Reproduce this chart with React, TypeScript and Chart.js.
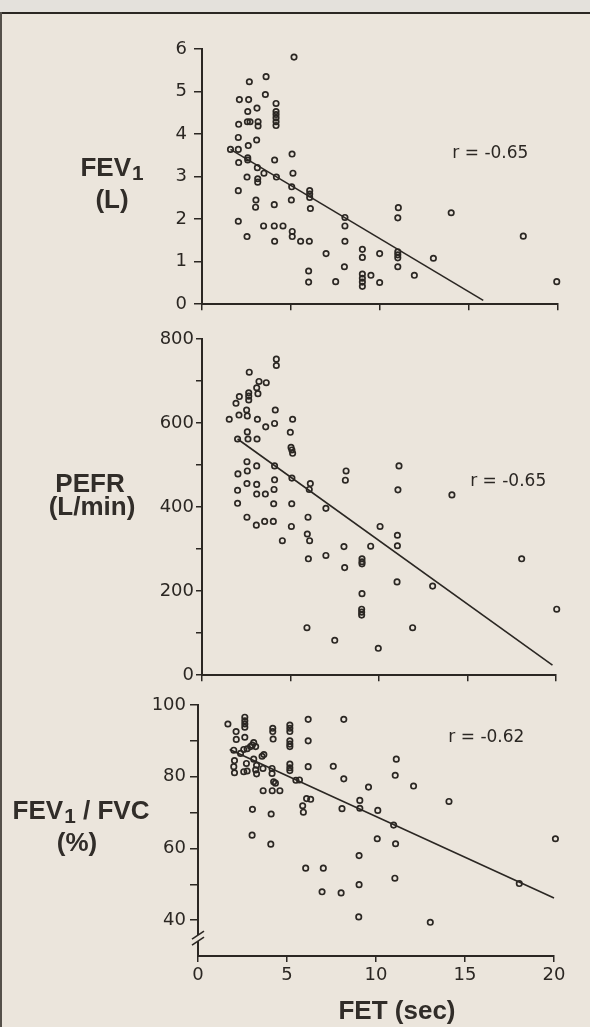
import React, { useEffect, useRef } from 'react';
import { Chart, registerables } from 'chart.js';
Chart.register(...registerables);

const INK = '#2b2723';
const BG = '#ebe5dc';
const TICK_FONT = { family: '"DejaVu Sans", sans-serif', size: 18 };

// shared x axis (FET, sec)
const xTickValues = [0, 5, 10, 15, 20];

// Panel 1: FEV1 (L)
const fev1Fet = [5.17, 2.66, 3.6, 3.56, 2.1, 2.62, 4.16, 4.16, 4.16, 4.16, 4.16, 4.16, 2.57, 3.09, 2.06, 2.55, 2.7, 3.15, 3.15, 3.07, 2.04, 2.6, 1.6, 2.04, 5.06, 4.08, 2.06, 2.57, 2.57, 3.11, 3.48, 5.11, 2.53, 3.13, 3.13, 4.18, 5.04, 2.04, 6.05, 6.05, 6.05, 5.02, 3.03, 3.01, 4.06, 6.09, 8.03, 11.03, 11.0, 14.0, 2.04, 3.46, 4.06, 4.55, 8.03, 2.53, 5.07, 5.07, 4.08, 5.54, 6.03, 8.03, 18.05, 6.97, 9.01, 9.01, 9.98, 11.0, 11.0, 11.0, 13.0, 8.0, 11.0, 5.99, 9.01, 9.49, 11.93, 9.01, 9.01, 9.01, 5.99, 7.51, 9.98, 19.93];
const fev1Val = [5.81, 5.23, 5.35, 4.93, 4.81, 4.81, 4.72, 4.53, 4.46, 4.38, 4.29, 4.2, 4.53, 4.61, 4.23, 4.29, 4.29, 4.29, 4.19, 3.86, 3.92, 3.73, 3.64, 3.64, 3.53, 3.39, 3.33, 3.44, 3.39, 3.21, 3.08, 3.08, 2.99, 2.95, 2.87, 2.99, 2.76, 2.67, 2.67, 2.59, 2.51, 2.45, 2.45, 2.28, 2.34, 2.25, 2.04, 2.27, 2.03, 2.15, 1.95, 1.84, 1.84, 1.84, 1.84, 1.59, 1.71, 1.59, 1.48, 1.48, 1.48, 1.48, 1.6, 1.19, 1.29, 1.1, 1.19, 1.23, 1.16, 1.09, 1.08, 0.88, 0.88, 0.78, 0.71, 0.68, 0.68, 0.61, 0.52, 0.42, 0.52, 0.53, 0.51, 0.53];
const fev1FitFet = [1.6, 15.8];
const fev1FitVal = [3.64, 0.09];
const fev1Ticks = [0, 1, 2, 3, 4, 5, 6];
const fev1Labels = [0, 1, 2, 3, 4, 5, 6];

// Panel 2: PEFR (L/min)
const pefrFet = [4.2, 4.2, 2.67, 3.22, 3.63, 3.09, 3.16, 2.64, 2.64, 2.64, 2.11, 1.92, 2.52, 2.56, 2.09, 1.54, 3.13, 4.14, 4.1, 3.6, 5.12, 4.99, 2.56, 2.6, 3.11, 2.01, 5.03, 5.08, 5.12, 2.54, 3.09, 4.1, 2.03, 2.56, 8.14, 8.1, 11.13, 4.1, 5.08, 2.54, 3.09, 6.12, 6.06, 2.01, 3.09, 3.58, 4.07, 11.07, 14.12, 2.01, 4.05, 5.07, 7.0, 2.54, 3.07, 3.54, 4.03, 5.05, 5.99, 10.06, 5.95, 6.08, 4.54, 11.04, 11.04, 8.02, 9.53, 6.01, 7.0, 9.04, 9.04, 9.04, 8.06, 18.06, 11.02, 13.03, 9.04, 9.02, 9.02, 9.02, 20.04, 5.93, 11.9, 7.5, 9.96];
const pefrVal = [752, 737, 721, 699, 696, 684, 670, 672, 664, 655, 663, 647, 631, 617, 619, 609, 609, 631, 599, 591, 609, 578, 579, 562, 562, 562, 542, 536, 528, 508, 498, 498, 479, 486, 486, 464, 498, 465, 469, 456, 454, 456, 442, 440, 431, 431, 442, 441, 429, 409, 408, 408, 397, 376, 357, 366, 366, 354, 376, 354, 336, 320, 320, 333, 308, 306, 307, 277, 285, 277, 270, 265, 256, 277, 222, 212, 194, 157, 150, 143, 157, 113, 113, 83, 64];
const pefrFitFet = [2.01, 19.8];
const pefrFitVal = [562, 24];
const pefrTicks = [0, 100, 200, 300, 400, 500, 600, 700, 800];
const pefrLabels = [0, 200, 400, 600, 800];

// Panel 3: FEV1/FVC (%)
const ratioFet = [1.68, 2.63, 2.63, 2.63, 2.63, 2.14, 2.15, 2.63, 4.2, 4.2, 5.16, 5.16, 5.16, 6.19, 4.22, 5.16, 5.16, 5.16, 6.19, 3.13, 3.05, 2.95, 2.76, 2.57, 3.24, 2.01, 2.39, 3.7, 3.6, 2.05, 3.13, 2.72, 3.29, 2.01, 3.65, 4.16, 5.16, 5.16, 5.16, 6.19, 2.05, 2.57, 2.76, 3.24, 3.29, 4.16, 4.25, 4.35, 5.7, 5.5, 3.66, 4.17, 4.6, 6.1, 6.33, 5.88, 5.92, 3.06, 8.09, 9.09, 9.09, 10.1, 14.1, 4.11, 10.99, 3.04, 10.07, 11.1, 20.08, 4.09, 9.05, 6.05, 7.04, 11.06, 9.05, 6.97, 8.04, 18.05, 9.03, 13.05, 7.6, 11.14, 11.08, 8.19, 9.58, 12.11, 8.19];
const ratioVal = [94.7, 96.6, 95.6, 94.7, 93.8, 92.6, 90.4, 91.0, 93.5, 92.6, 94.4, 93.5, 92.6, 96.0, 90.5, 90.0, 89.1, 88.4, 90.0, 89.5, 88.8, 88.4, 87.8, 87.6, 88.4, 87.4, 86.5, 86.2, 85.7, 84.5, 84.9, 83.7, 83.2, 82.8, 82.3, 82.3, 83.5, 82.5, 81.7, 82.8, 81.1, 81.4, 81.6, 81.9, 80.8, 80.9, 78.6, 78.2, 79.1, 79.0, 76.1, 76.1, 76.1, 73.9, 73.7, 71.9, 70.1, 70.9, 71.1, 73.4, 71.2, 70.6, 73.1, 69.6, 66.5, 63.7, 62.7, 61.3, 62.7, 61.2, 58.0, 54.5, 54.5, 51.7, 49.9, 47.9, 47.6, 50.2, 40.9, 39.4, 82.9, 84.9, 80.4, 79.4, 77.1, 77.4, 96.0];
const ratioFitFet = [1.78, 20];
const ratioFitVal = [87.6, 46.2];
const ratioTicks = [40, 50, 60, 70, 80, 90, 100];
const ratioLabels = [40, 60, 80, 100];

type Spec = {
  xs: number[]; ys: number[]; fitX: number[]; fitY: number[];
  yMin: number; yMax: number; yTicks: number[]; yLabels: number[];
  r: string; rX: number; rY: number;
  top: number; h: number; plotLeft: number; plotRight: number; plotTop: number; plotBottom: number;
  showX: boolean; yTickLen: number; yPad: number; brk?: number;
};

const panels: Spec[] = [
  { xs: fev1Fet, ys: fev1Val, fitX: fev1FitFet, fitY: fev1FitVal, yMin: 0, yMax: 6, yTicks: fev1Ticks, yLabels: fev1Labels,
    r: 'r = -0.65', rX: 16.2, rY: 3.54, top: 25, h: 297, plotLeft: 202, plotRight: 558, plotTop: 49, plotBottom: 312, showX: false, yTickLen: 8, yPad: 7 },
  { xs: pefrFet, ys: pefrVal, fitX: pefrFitFet, fitY: pefrFitVal, yMin: 0, yMax: 800, yTicks: pefrTicks, yLabels: pefrLabels,
    r: 'r = -0.65', rX: 17.3, rY: 460, top: 322, h: 366, plotLeft: 202, plotRight: 556, plotTop: 339, plotBottom: 678, showX: false, yTickLen: 6, yPad: 2 },
  { xs: ratioFet, ys: ratioVal, fitX: ratioFitFet, fitY: ratioFitVal, yMin: 30, yMax: 100, yTicks: ratioTicks, yLabels: ratioLabels,
    r: 'r = -0.62', rX: 16.2, rY: 90.8, top: 688, h: 312, plotLeft: 198, plotRight: 554, plotTop: 705, plotBottom: 956, showX: true, yTickLen: 8, yPad: 4, brk: 35 },
];

function Panel({ spec }: { spec: Spec }) {
  const ref = useRef<HTMLCanvasElement | null>(null);
  useEffect(() => {
    const deco = {
      id: 'deco',
      afterDraw(chart: any) {
        const ctx = chart.ctx;
        const xs = chart.scales.x, ys = chart.scales.y;
        ctx.save();
        ctx.fillStyle = INK;
        ctx.font = '17px "DejaVu Sans", sans-serif';
        ctx.textAlign = 'center';
        ctx.textBaseline = 'middle';
        ctx.fillText(spec.r, xs.getPixelForValue(spec.rX), ys.getPixelForValue(spec.rY));
        if (spec.brk !== undefined) {
          const x0 = chart.chartArea.left;
          const y0 = ys.getPixelForValue(spec.brk);
          ctx.fillStyle = BG;
          ctx.fillRect(x0 - 3, y0 - 3, 6, 6);
          ctx.strokeStyle = INK;
          ctx.lineWidth = 1.6;
          for (const dy of [-3, 3]) {
            ctx.beginPath();
            ctx.moveTo(x0 - 6, y0 + dy + 4);
            ctx.lineTo(x0 + 6, y0 + dy - 4);
            ctx.stroke();
          }
        }
        ctx.restore();
      },
    };
    const chart = new Chart(ref.current as HTMLCanvasElement, {
      type: 'scatter',
      data: {
        datasets: [
          {
            data: spec.xs.map((x, i) => ({ x, y: spec.ys[i] })),
            clip: false,
            pointStyle: 'circle',
            pointRadius: 2.7,
            pointBorderWidth: 1.7,
            borderColor: INK,
            backgroundColor: 'rgba(0,0,0,0)',
            pointBackgroundColor: 'rgba(0,0,0,0)',
            pointBorderColor: INK,
          } as any,
          {
            type: 'line',
            data: spec.fitX.map((x, i) => ({ x, y: spec.fitY[i] })),
            clip: false,
            borderColor: INK,
            borderWidth: 1.6,
            pointRadius: 0,
            fill: false,
          } as any,
        ],
      },
      options: {
        responsive: false,
        animation: false,
        events: [],
        layout: { padding: { top: spec.plotTop - spec.top, right: 590 - spec.plotRight, left: 0, bottom: 0 } },
        plugins: { legend: { display: false }, tooltip: { enabled: false } },
        scales: {
          x: {
            type: 'linear', min: 0, max: 20,
            afterBuildTicks: (s: any) => { s.ticks = xTickValues.map((v) => ({ value: v })); },
            afterFit: (s: any) => { s.height = spec.top + spec.h - spec.plotBottom; },
            ticks: { display: spec.showX, color: INK, font: TICK_FONT, padding: 3, maxRotation: 0, autoSkip: false },
            grid: { drawOnChartArea: false, drawTicks: true, tickLength: 6, color: INK, lineWidth: 1.5 },
            border: { display: true, color: INK, width: 2 },
          },
          y: {
            type: 'linear', min: spec.yMin, max: spec.yMax,
            afterBuildTicks: (s: any) => { s.ticks = spec.yTicks.map((v) => ({ value: v })); },
            afterFit: (s: any) => { s.width = spec.plotLeft; },
            ticks: {
              color: INK, font: TICK_FONT, padding: spec.yPad, autoSkip: false,
              callback: (v: any) => (spec.yLabels.includes(Number(v)) ? String(v) : ''),
            },
            grid: { drawOnChartArea: false, drawTicks: true, tickLength: spec.yTickLen, color: INK, lineWidth: 1.5 },
            border: { display: true, color: INK, width: 2 },
          },
        },
      },
      plugins: [deco],
    } as any);
    return () => chart.destroy();
  }, []);
  return (
    <canvas
      ref={ref}
      width={590}
      height={spec.h}
      style={{ position: 'absolute', left: 0, top: spec.top, width: 590, height: spec.h }}
    />
  );
}

const labelStyle = (x: number, y: number): React.CSSProperties => ({
  position: 'absolute',
  left: x,
  top: y,
  transform: 'translate(-50%, -50%)',
  fontFamily: '"Liberation Sans", Arial, sans-serif',
  fontWeight: 'bold',
  fontSize: 26,
  color: '#312d29',
  whiteSpace: 'nowrap',
  lineHeight: 1,
});

const Sub = ({ t }: { t: string }) => (
  <span style={{ fontSize: '0.8em', position: 'relative', top: '0.18em', marginLeft: 1 }}>{t}</span>
);

export default function App() {
  return (
    <div style={{ position: 'absolute', left: 0, top: 0, width: 590, height: 1027, background: BG, overflow: 'hidden' }}>
      <div style={{ position: 'absolute', left: 0, top: 0, width: 590, height: 12, background: '#e4e1dc' }} />
      <div style={{ position: 'absolute', left: 0, top: 12, width: 590, height: 2, background: INK }} />
      <div style={{ position: 'absolute', left: 0, top: 12, width: 2, height: 1015, background: '#55504a' }} />
      {panels.map((p, i) => (
        <Panel key={i} spec={p} />
      ))}
      <div style={labelStyle(112, 167)}>FEV<Sub t="1" /></div>
      <div style={labelStyle(112, 199)}>(L)</div>
      <div style={labelStyle(90, 483)}>PEFR</div>
      <div style={labelStyle(92, 506)}>(L/min)</div>
      <div style={labelStyle(81, 810)}>FEV<Sub t="1" /> / FVC</div>
      <div style={labelStyle(77, 842)}>(%)</div>
      <div style={labelStyle(397, 1010)}>FET (sec)</div>
    </div>
  );
}
